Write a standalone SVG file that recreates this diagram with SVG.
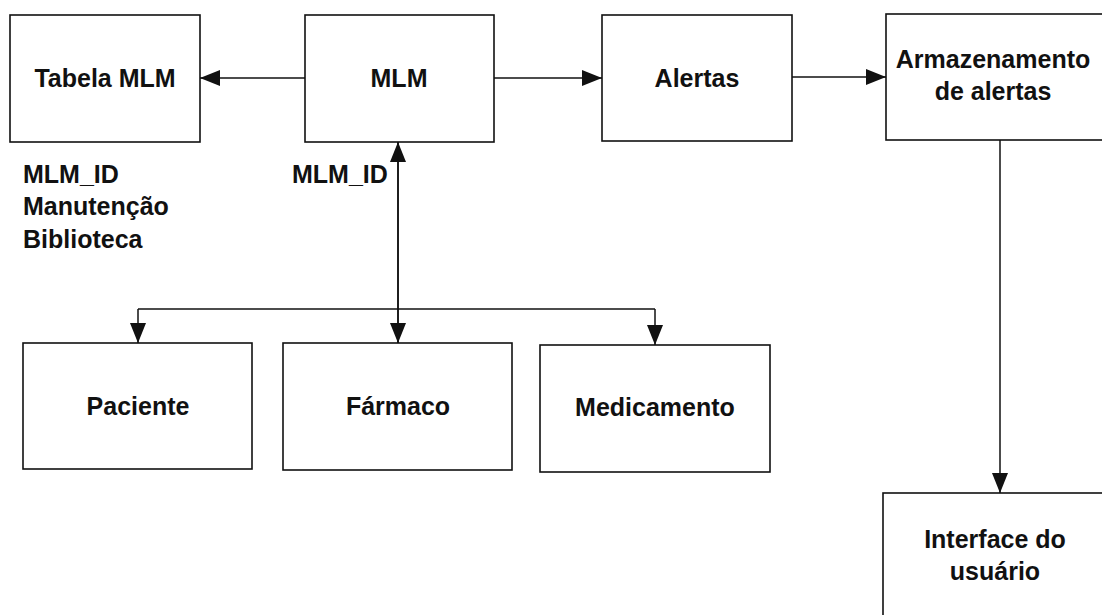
<svg xmlns="http://www.w3.org/2000/svg" width="1102" height="615" viewBox="0 0 1102 615">
  <style>
    .box { fill: #ffffff; stroke: #111111; stroke-width: 1.6; }
    .lbl { font-family: "Liberation Sans", Arial, sans-serif; font-weight: bold; font-size: 25px; fill: #111111; }
    .mid { text-anchor: middle; }
    .wire { fill: none; stroke: #111111; stroke-width: 1.5; }
  </style>
  <defs>
    <marker id="tip" viewBox="0 0 20 16" refX="20" refY="8" markerWidth="20" markerHeight="16" markerUnits="userSpaceOnUse" orient="auto">
      <path d="M0,0 L20,8 L0,16 Z" fill="#111111"/>
    </marker>
  </defs>
  <rect width="1102" height="615" fill="#ffffff"/>

  <g id="tabela-mlm">
    <rect class="box" x="10" y="15" width="190" height="127"/>
    <text class="lbl mid" x="105" y="87">Tabela MLM</text>
  </g>
  <g id="tabela-campos">
    <text class="lbl" x="23" y="183" font-size="24">MLM_ID</text>
    <text class="lbl" x="23" y="215" font-size="24">Manutenção</text>
    <text class="lbl" x="23" y="248" font-size="24">Biblioteca</text>
  </g>
  <g id="mlm">
    <rect class="box" x="305" y="15" width="189" height="127"/>
    <text class="lbl mid" x="399" y="87">MLM</text>
  </g>
  <g id="mlm-id">
    <text class="lbl" x="292" y="183" font-size="24">MLM_ID</text>
  </g>
  <g id="alertas">
    <rect class="box" x="602" y="15" width="190" height="126"/>
    <text class="lbl mid" x="697" y="87">Alertas</text>
  </g>
  <g id="armazenamento">
    <rect class="box" x="886" y="14" width="230" height="126"/>
    <text class="lbl mid" x="993" y="68">Armazenamento</text>
    <text class="lbl mid" x="993" y="100">de alertas</text>
  </g>
  <g id="paciente">
    <rect class="box" x="23" y="343" width="229" height="126"/>
    <text class="lbl mid" x="138" y="415">Paciente</text>
  </g>
  <g id="farmaco">
    <rect class="box" x="283" y="343" width="229" height="127"/>
    <text class="lbl mid" x="398" y="415">Fármaco</text>
  </g>
  <g id="medicamento">
    <rect class="box" x="540" y="345" width="230" height="127"/>
    <text class="lbl mid" x="655" y="416">Medicamento</text>
  </g>
  <g id="interface">
    <rect class="box" x="883" y="493" width="240" height="140"/>
    <text class="lbl mid" x="995" y="548">Interface do</text>
    <text class="lbl mid" x="995" y="580">usuário</text>
  </g>

  <g id="connectors">
    <line class="wire" x1="305" y1="78" x2="200" y2="78" marker-end="url(#tip)"/>
    <line class="wire" x1="494" y1="78" x2="602" y2="78" marker-end="url(#tip)"/>
    <line class="wire" x1="792" y1="77" x2="886" y2="77" marker-end="url(#tip)"/>
    <line class="wire" x1="1000" y1="140" x2="1000" y2="493" marker-end="url(#tip)"/>
    <line class="wire" x1="398" y1="343" x2="398" y2="142" marker-end="url(#tip)"/>
    <line class="wire" x1="398" y1="142" x2="398" y2="343" marker-end="url(#tip)"/>
    <path class="wire" d="M138,309 H655"/>
    <line class="wire" x1="138" y1="309" x2="138" y2="343" marker-end="url(#tip)"/>
    <line class="wire" x1="655" y1="309" x2="655" y2="345" marker-end="url(#tip)"/>
  </g>
</svg>
